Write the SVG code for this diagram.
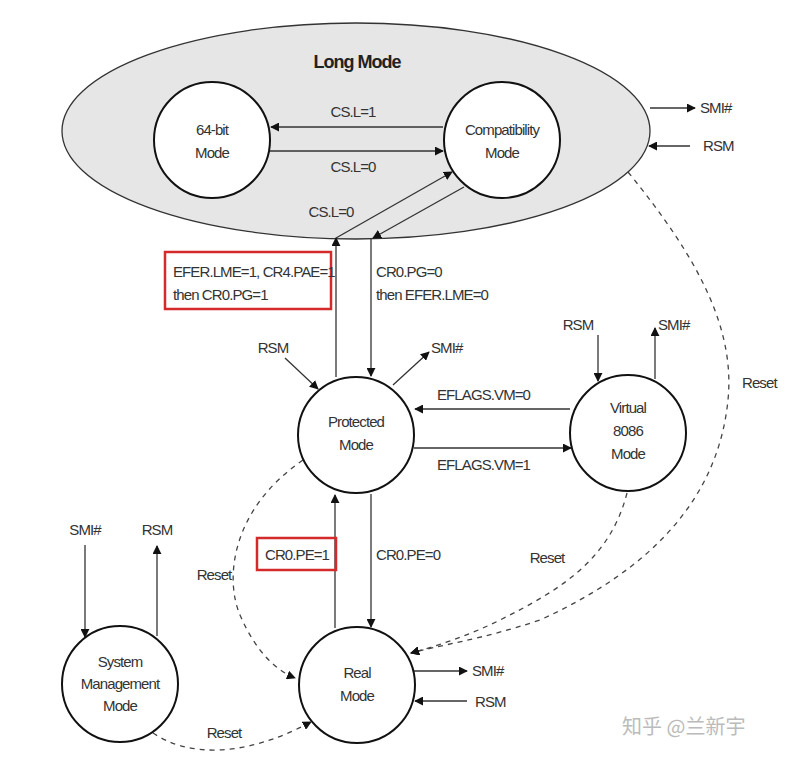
<svg xmlns="http://www.w3.org/2000/svg" width="803" height="770" viewBox="0 0 803 770">
<style>
text{font-family:"Liberation Sans",Arial,sans-serif;font-size:15px;letter-spacing:-0.9px;fill:#333}
.c{text-anchor:middle}
.node{fill:#fff;stroke:#111;stroke-width:2}
.ln{stroke:#333;stroke-width:1.3;fill:none}
.arr{marker-end:url(#ah)}
.dash{stroke:#444;stroke-width:1.3;fill:none;stroke-dasharray:5 5}
.red{fill:none;stroke:#d42a2a;stroke-width:2.5}
</style>
<defs>
<marker id="ah" viewBox="0 0 10 10" refX="9" refY="5" markerWidth="9" markerHeight="9" markerUnits="userSpaceOnUse" orient="auto">
<path d="M0,0 L10,5 L0,10 z" fill="#111"/>
</marker>
</defs>
<rect width="803" height="770" fill="#fff"/>
<g id="long-mode">
<ellipse cx="356" cy="131" rx="294" ry="108" fill="#e6e6e6" stroke="#333" stroke-width="1.3"/>
<text x="357" y="68" class="c" style="font-weight:bold;font-size:18px;letter-spacing:-1px;fill:#222">Long Mode</text>
</g>
<g id="connectors">
<line class="ln arr" x1="443" y1="127" x2="271" y2="127"/>
<line class="ln arr" x1="270" y1="151" x2="443" y2="151"/>
<line class="ln arr" x1="336" y1="377" x2="336" y2="238"/>
<line class="ln arr" x1="336" y1="238" x2="452" y2="172"/>
<line class="ln arr" x1="464" y1="187" x2="373" y2="238"/>
<line class="ln arr" x1="371" y1="238" x2="371" y2="376"/>
<line class="ln arr" x1="650" y1="108" x2="695" y2="108"/>
<line class="ln arr" x1="690" y1="146" x2="649" y2="146"/>
<line class="ln arr" x1="285" y1="358" x2="318" y2="389"/>
<line class="ln arr" x1="393" y1="385" x2="429" y2="352"/>
<line class="ln arr" x1="570" y1="409" x2="415" y2="409"/>
<line class="ln arr" x1="414" y1="448" x2="571" y2="448"/>
<line class="ln arr" x1="598" y1="335" x2="598" y2="381"/>
<line class="ln arr" x1="655" y1="379" x2="655" y2="328"/>
<line class="ln arr" x1="335" y1="628" x2="335" y2="495"/>
<line class="ln arr" x1="371" y1="494" x2="371" y2="627"/>
<line class="ln arr" x1="414" y1="671" x2="467" y2="671"/>
<line class="ln arr" x1="467" y1="701" x2="415" y2="701"/>
<line class="ln arr" x1="85" y1="545" x2="85" y2="637"/>
<line class="ln arr" x1="157" y1="636" x2="157" y2="546"/>
<path class="dash arr" d="M628,172 C700,260 735,330 728,400 C718,500 650,570 540,620 C480,640 440,645 411,653"/>
<path class="dash arr" d="M627,493 C610,560 560,590 500,620 C470,635 440,645 411,653"/>
<path class="dash arr" d="M303,460 C230,510 225,580 240,615 C255,650 275,670 295,678"/>
<path class="dash arr" d="M153,733 C185,755 240,760 311,722"/>
</g>
<g id="n64">
<circle class="node" cx="212" cy="140" r="58"/>
<text x="212" y="135" class="c">64-bit</text>
<text x="212" y="158" class="c">Mode</text>
</g>
<g id="compat">
<circle class="node" cx="502" cy="140" r="58"/>
<text x="502" y="135" class="c">Compatibility</text>
<text x="502" y="158" class="c">Mode</text>
</g>
<g id="protected">
<circle class="node" cx="356" cy="435" r="58"/>
<text x="356" y="427" class="c">Protected</text>
<text x="356" y="450" class="c">Mode</text>
</g>
<g id="v8086">
<circle class="node" cx="628" cy="433" r="58"/>
<text x="628" y="413" class="c">Virtual</text>
<text x="628" y="436" class="c">8086</text>
<text x="628" y="459" class="c">Mode</text>
</g>
<g id="real">
<circle class="node" cx="357" cy="685" r="58"/>
<text x="357" y="678" class="c">Real</text>
<text x="357" y="701" class="c">Mode</text>
</g>
<g id="smm">
<circle class="node" cx="120" cy="684" r="58"/>
<text x="120" y="667" class="c">System</text>
<text x="120" y="689" class="c">Management</text>
<text x="120" y="711" class="c">Mode</text>
</g>
<g id="labels">
<text x="353" y="117" class="c">CS.L=1</text>
<text x="353" y="172" class="c">CS.L=0</text>
<text x="331" y="217" class="c">CS.L=0</text>
<rect class="red" x="165" y="252" width="166" height="57"/>
<text x="173" y="277">EFER.LME=1, CR4.PAE=1</text>
<text x="173" y="300">then CR0.PG=1</text>
<text x="376" y="277">CR0.PG=0</text>
<text x="376" y="300">then EFER.LME=0</text>
<text x="273" y="353" class="c">RSM</text>
<text x="431" y="353">SMI#</text>
<text x="437" y="400">EFLAGS.VM=0</text>
<text x="437" y="470">EFLAGS.VM=1</text>
<text x="700" y="113">SMI#</text>
<text x="703" y="151">RSM</text>
<text x="578" y="330" class="c">RSM</text>
<text x="658" y="330">SMI#</text>
<text x="742" y="388">Reset</text>
<text x="547" y="563" class="c">Reset</text>
<rect class="red" x="257" y="538" width="79" height="32"/>
<text x="297" y="560" class="c">CR0.PE=1</text>
<text x="376" y="560">CR0.PE=0</text>
<text x="214" y="580" class="c">Reset</text>
<text x="85" y="535" class="c">SMI#</text>
<text x="157" y="535" class="c">RSM</text>
<text x="224" y="738" class="c">Reset</text>
<text x="472" y="676">SMI#</text>
<text x="475" y="707">RSM</text>
<text x="622" y="734" style="font-family:'Noto Sans CJK SC',sans-serif;font-size:20px;letter-spacing:0;fill:#bbb">知乎 @兰新宇</text>
</g>
</svg>
